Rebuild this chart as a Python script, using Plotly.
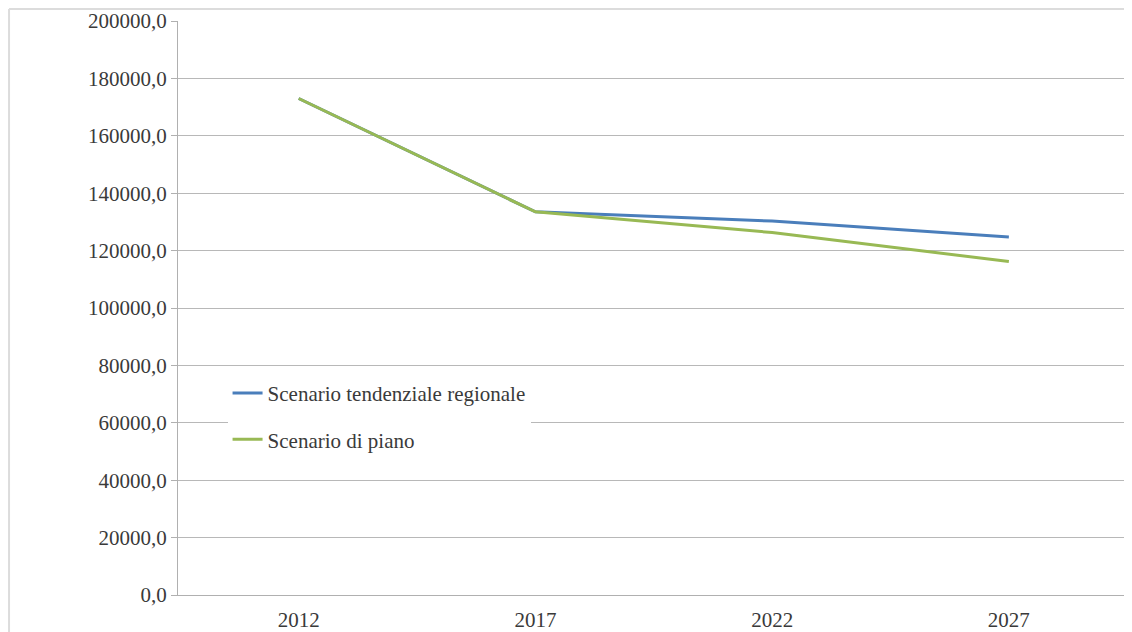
import plotly.graph_objects as go

years = ["2012", "2017", "2022", "2027"]
tendenziale = [173000, 133500, 130300, 124700]
piano = [173000, 133500, 126300, 116200]
y_ticks = list(range(0, 200001, 20000))
y_tick_labels = [f"{v},0" for v in y_ticks]

fig = go.Figure()
fig.add_trace(go.Scatter(x=years, y=tendenziale, mode="lines",
                         name="Scenario tendenziale regionale", legendgroup="a",
                         line=dict(color="#4a7ebb", width=3)))
fig.add_trace(go.Scatter(x=years, y=piano, mode="lines",
                         name="Scenario di piano", legendgroup="b",
                         line=dict(color="#98b954", width=3)))

font = dict(family="Liberation Serif, Times New Roman, serif", size=21, color="#3a3a3a")
fig.update_layout(
    width=1124, height=624,
    margin=dict(l=170, r=1, t=13, b=37),
    paper_bgcolor="white", plot_bgcolor="white",
    font=font,
    showlegend=True,
    legend=dict(x=0.052, y=0.387, xanchor="left", yanchor="top",
                bgcolor="white", font=font, tracegroupgap=16,
                traceorder="grouped", itemwidth=30),
    xaxis=dict(type="category", range=[-0.51, 3.516], showgrid=False, showline=True,
               linecolor="#b0b0b0", linewidth=1, ticks="", ticklabelstandoff=6,
               tickfont=font),
    yaxis=dict(range=[0, 200000], tickvals=y_ticks, ticktext=y_tick_labels,
               showgrid=True, gridcolor="#b8b8b8", gridwidth=1,
               showline=True, linecolor="#b0b0b0", linewidth=1,
               ticks="outside", ticklen=6, tickcolor="#b0b0b0",
               zeroline=False, tickfont=font),
    shapes=[
        dict(type="line", xref="paper", yref="paper", x0=-0.1773, x1=1.02,
             y0=1.0209, y1=1.0209, line=dict(color="#dcdcdc", width=2)),
        dict(type="line", xref="paper", yref="paper", x0=-0.1773, x1=-0.1773,
             y0=1.0209, y1=-0.07, line=dict(color="#dcdcdc", width=2)),
    ],
)
fig.write_html("out.html")
